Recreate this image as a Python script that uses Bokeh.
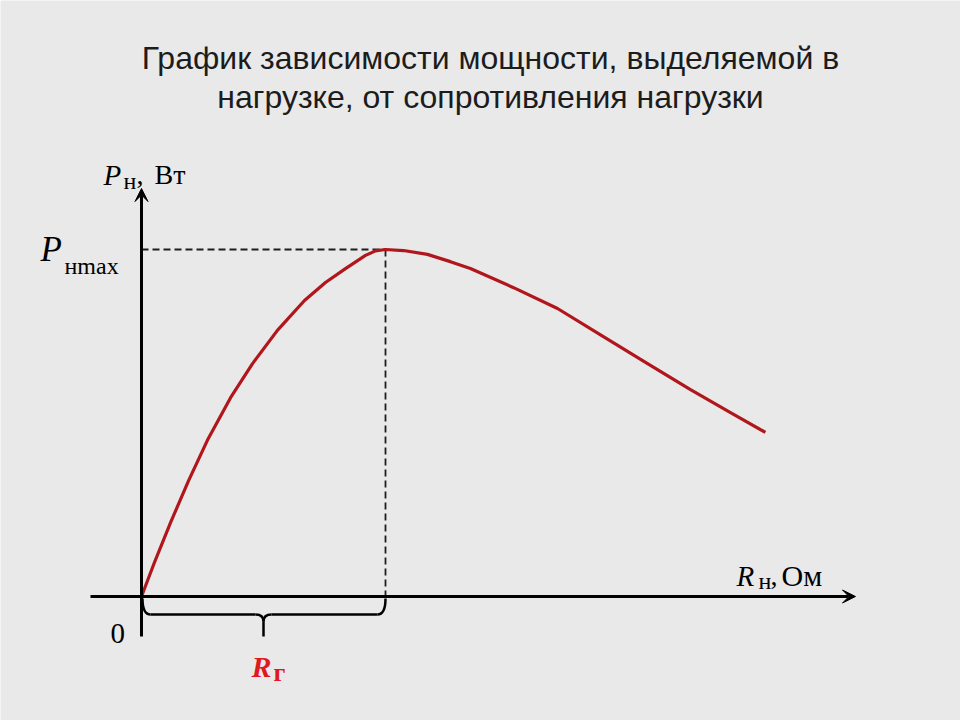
from bokeh.plotting import figure
from bokeh.models import Range1d, Label, Arrow, VeeHead
from bokeh.embed import file_html
from bokeh.resources import INLINE

# ---- data (R_г = 10, P_max = 10 in arbitrary units) ----
R_load = [0.00, 0.53, 1.19, 1.93, 2.70, 3.65, 4.55, 5.57, 6.68, 7.54, 8.36, 9.18,
          9.59, 10.00, 10.74, 11.72, 12.66, 13.48, 15.25, 17.05, 18.93, 20.74,
          22.50, 24.14, 25.57]
P_load = [0.00, 0.98, 2.13, 3.34, 4.50, 5.73, 6.71, 7.67, 8.53, 9.05, 9.45, 9.83,
          9.96, 10.00, 9.97, 9.86, 9.65, 9.45, 8.90, 8.30, 7.49, 6.71,
          5.96, 5.30, 4.73]
R_g = 10.0
P_max = 10.0

title_lines = ["График зависимости мощности, выделяемой в",
               "нагрузке, от сопротивления нагрузки"]

# ---- layout ----
W, H, MARGIN = 960, 720, 0
X0, Y0 = 141, 596          # page pixel of the origin
SX, SY = 24.4, 34.7        # pixels per data unit
BG = "#e9e9e9"
CURVE = "#b0161b"
RED = "#e0191f"
SERIF = "Liberation Serif"
SANS = "Liberation Sans"


def dx(X):
    return (X - X0) / SX


def dy(Y):
    return (Y0 - Y) / SY


p = figure(width=W, height=H,
           x_range=Range1d((MARGIN - X0) / SX, (MARGIN + W - X0) / SX),
           y_range=Range1d((Y0 - (MARGIN + H)) / SY, (Y0 - MARGIN) / SY),
           output_backend="svg", toolbar_location=None, min_border=0,
           x_axis_location=None, y_axis_location=None,
           background_fill_color=BG, border_fill_color=BG,
           outline_line_color=None)
p.grid.visible = False

# axes with arrows
p.add_layout(Arrow(end=VeeHead(size=13, fill_color="black", line_color="black", line_width=1),
                   x_start=dx(90), y_start=0, x_end=dx(855), y_end=0,
                   line_width=3, line_color="black"))
p.add_layout(Arrow(end=VeeHead(size=13, fill_color="black", line_color="black", line_width=1),
                   x_start=0, y_start=dy(636), x_end=0, y_end=dy(188),
                   line_width=3, line_color="black"))

# dashed guides to the maximum
p.segment(x0=[0, R_g], y0=[P_max, P_max], x1=[R_g, R_g], y1=[P_max, 0],
          line_dash="7 4", line_width=1.8, line_color="#1e1e1e")

# curve
p.line(R_load, P_load, line_width=3.2, line_color=CURVE, line_join="round")

# brace under the axis from 0 to R_г
by = dy(614)
bj = dy(621)
bt = dy(636)
mid = R_g / 2
w = 8 / SX
p.quadratic(x0=[dx(142), R_g - w, mid - w, mid + w],
            y0=[dy(598), by, by, by],
            x1=[dx(142) + w, R_g, mid, mid],
            y1=[by, dy(598), bj, bj],
            cx=[dx(142), R_g, mid, mid],
            cy=[by, by, by, by],
            line_width=2.5, line_color="black")
p.segment(x0=[dx(142) + w, mid + w, mid], y0=[by, by, bj],
          x1=[mid - w, R_g - w, mid], y1=[by, by, bt],
          line_width=2.5, line_color="black")


def lab(X, Y, text, size, style="normal", color="black", font=SERIF, align="left"):
    p.add_layout(Label(x=dx(X), y=dy(Y), text=text, text_font=font,
                       text_font_style=style, text_font_size=f"{size}px",
                       text_color=color, text_baseline="alphabetic",
                       text_align=align))


# title
lab(490, 57, title_lines[0], 32, font=SANS, color="#1c1c1c", align="center")
lab(490, 96, title_lines[1], 32, font=SANS, color="#1c1c1c", align="center")

# y-axis label P_н, Вт
lab(103, 174, "P", 29, "italic")
lab(123, 180, "н", 24)
lab(136, 174, ",", 28)
lab(154, 174, "Вт", 28)

# P_нmax
lab(40, 249, "P", 35, "italic")
lab(64, 265, "нmax", 24)

# origin
lab(110, 633, "0", 29)

# x-axis label R_н, Ом
lab(736, 575, "R", 29, "italic")
lab(758, 580, "н", 24)
lab(770, 575, ",", 28)
lab(781, 575, "Ом", 30)

# R_г
lab(251, 666, "R", 30, "bold italic", RED)
lab(273, 672, "г", 26, "bold", RED)

open("out.html", "w").write(file_html(p, INLINE))
